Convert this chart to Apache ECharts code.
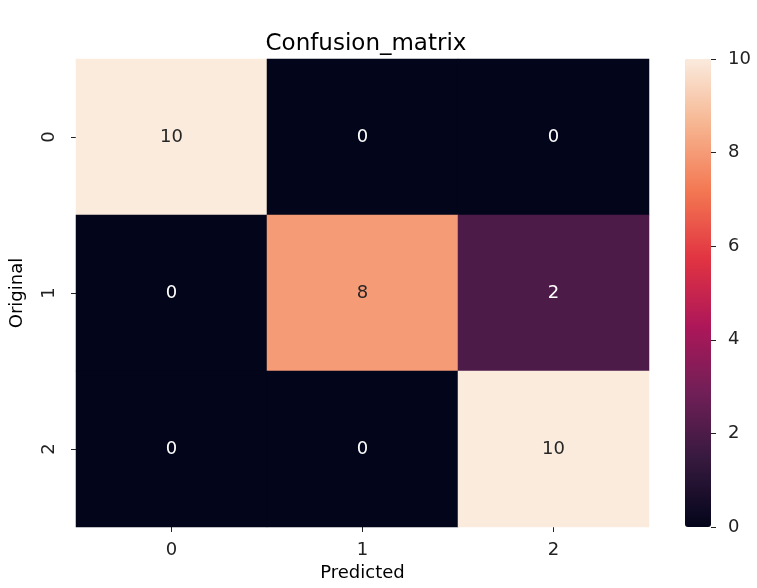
<!DOCTYPE html>
<html>
<head>
<meta charset="utf-8">
<script src="https://cdn.jsdelivr.net/npm/echarts@6/dist/echarts.min.js"></script>
<style>
html,body{margin:0;padding:0;background:#fff;}
#chart{width:757px;height:588px;}
</style>
</head>
<body>
<div id="chart"></div>
<script>
var predictedLabels = ['0', '1', '2'];
var originalLabels = ['0', '1', '2'];
var matrix = [
  [10, 0, 0],
  [0, 8, 2],
  [0, 0, 10]
];
var colorbarTicks = [0, 2, 4, 6, 8, 10];
var rocket = ['#03051A', '#35193E', '#701F57', '#AD1759', '#E13342', '#F37651', '#F6B48F', '#FAEBDD'];

var FONT = 'DejaVu Sans';
var cells = [];
for (var r = 0; r < matrix.length; r++) {
  for (var c = 0; c < matrix[r].length; c++) {
    var v = matrix[r][c];
    cells.push({
      value: [c, r, v],
      label: { color: v > 5 ? '#262626' : '#ffffff' }
    });
  }
}

var chart = echarts.init(document.getElementById('chart'));
chart.setOption({
  animation: false,
  backgroundColor: '#ffffff',
  title: {
    text: 'Confusion_matrix',
    left: 361,
    top: 28,
    textAlign: 'center',
    textStyle: { fontFamily: FONT, fontSize: 23, fontWeight: 'normal', color: '#000' }
  },
  grid: [
    { left: 73, top: 59, width: 576, height: 468 },
    { left: 685, top: 59, width: 26, height: 468 }
  ],
  xAxis: [
    {
      type: 'category',
      gridIndex: 0,
      data: predictedLabels,
      position: 'bottom',
      name: 'Predicted',
      nameLocation: 'middle',
      nameGap: 37,
      nameTextStyle: { fontFamily: FONT, fontSize: 18, color: '#000' },
      axisLine: { show: false },
      axisTick: { show: true, alignWithLabel: true, length: 5, lineStyle: { color: '#222' } },
      axisLabel: { fontFamily: FONT, fontSize: 18, color: '#222', margin: 14 },
      splitLine: { show: false }
    },
    {
      type: 'value',
      gridIndex: 1,
      show: false,
      min: 0,
      max: 1
    }
  ],
  yAxis: [
    {
      type: 'category',
      gridIndex: 0,
      data: originalLabels,
      inverse: true,
      name: 'Original',
      nameLocation: 'middle',
      nameGap: 50,
      nameRotate: 90,
      nameTextStyle: { fontFamily: FONT, fontSize: 18, color: '#000' },
      axisLine: { show: false },
      axisTick: { show: true, alignWithLabel: true, length: 5, lineStyle: { color: '#222' } },
      axisLabel: { fontFamily: FONT, fontSize: 18, color: '#222', rotate: 90, margin: 18 },
      splitLine: { show: false }
    },
    {
      type: 'value',
      gridIndex: 1,
      position: 'right',
      min: colorbarTicks[0],
      max: colorbarTicks[colorbarTicks.length - 1],
      interval: colorbarTicks[1] - colorbarTicks[0],
      axisLine: { show: false, onZero: false },
      axisTick: { show: true, length: 5, lineStyle: { color: '#222' } },
      axisLabel: { fontFamily: FONT, fontSize: 18, color: '#222', margin: 17 },
      splitLine: { show: false }
    }
  ],
  visualMap: {
    type: 'continuous',
    seriesIndex: 0,
    min: 0,
    max: 10,
    left: 685,
    top: 59,
    itemWidth: 26,
    itemHeight: 468,
    padding: 0,
    calculable: false,
    showLabel: false,
    text: null,
    inRange: { color: rocket }
  },
  series: [
    {
      type: 'heatmap',
      xAxisIndex: 0,
      yAxisIndex: 0,
      data: cells,
      label: {
        show: true,
        fontFamily: FONT,
        fontSize: 18,
        formatter: function (p) { return p.value[2]; }
      },
      itemStyle: { borderWidth: 0 }
    }
  ]
});
</script>
</body>
</html>
